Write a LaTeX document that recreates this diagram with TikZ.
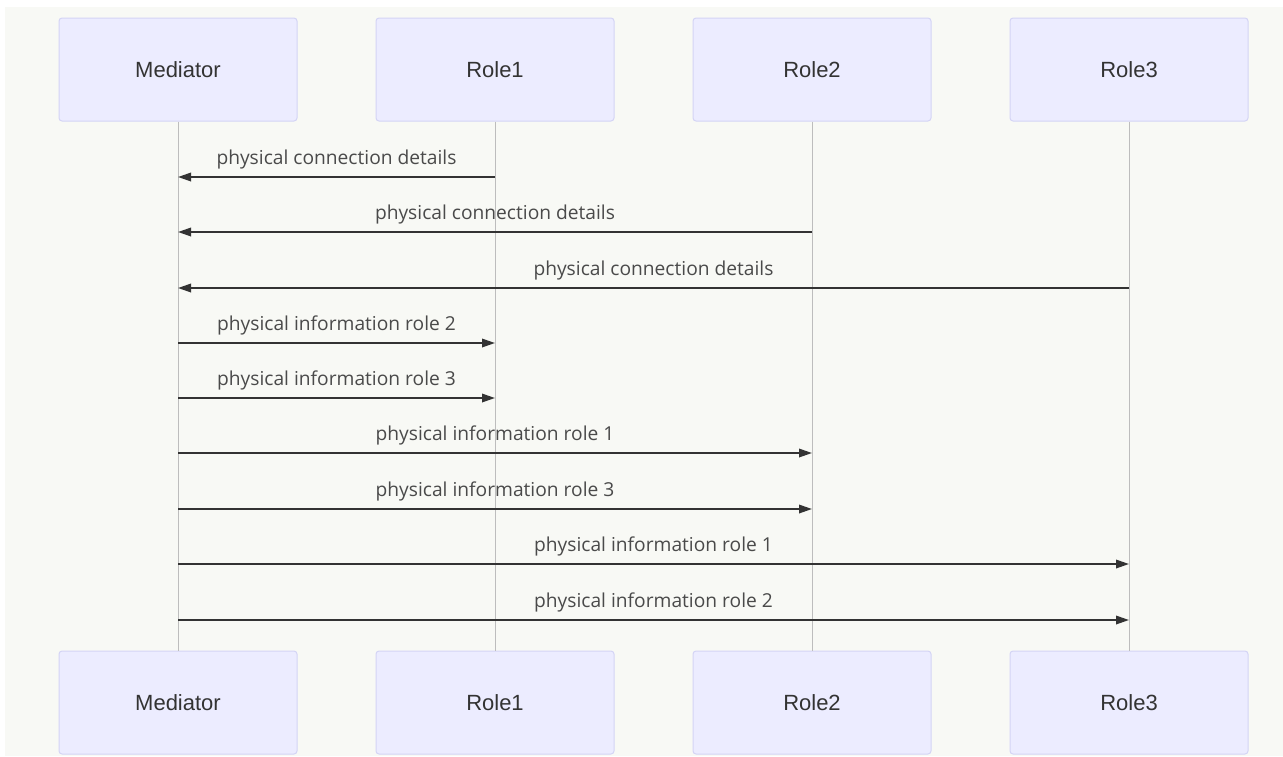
\documentclass[tikz,border=0pt]{standalone}
\usepackage{fontspec}
\usetikzlibrary{arrows.meta}
\newfontfamily\actfont{Liberation Sans}
\newfontfamily\msgfont{Open Sans}
\definecolor{pagebg}{HTML}{F8F9F5}
\definecolor{actfill}{HTML}{ECECFF}
\definecolor{actline}{HTML}{D4D4F5}
\definecolor{lifeline}{HTML}{BDBDBD}
\definecolor{msgline}{HTML}{333333}
\definecolor{msgtext}{HTML}{4A4A4A}
\definecolor{acttext}{HTML}{333333}
\tikzset{
  actor/.style={draw=actline, line width=1pt, fill=actfill, rounded corners=3pt,
    minimum width=238pt, minimum height=103pt, inner sep=0pt,
    font=\actfont\fontsize{22}{26}\selectfont, text=acttext},
  life/.style={draw=lifeline, line width=0.9pt},
  msg/.style={draw=msgline, line width=1.8pt,
    -{Triangle[length=13pt,width=8.5pt]}},
  msglabel/.style={font=\msgfont\fontsize{19.2}{23}\selectfont, text=msgtext, inner sep=0pt}
}
\begin{document}
\begin{tikzpicture}[x=1pt,y=-1pt]
  \useasboundingbox (0,0) rectangle (1283,756);
  \fill[white] (0,0) rectangle (1283,756);
  \fill[pagebg] (5,7) rectangle (1283,756);

  % participants, top row
  \node[actor] (tM) at (178,69.5) {Mediator};
  \node[actor] (tA) at (495,69.5) {Role1};
  \node[actor] (tB) at (812,69.5) {Role2};
  \node[actor] (tC) at (1129,69.5) {Role3};
  % participants, bottom row
  \node[actor] (bM) at (178,702.5) {Mediator};
  \node[actor] (bA) at (495,702.5) {Role1};
  \node[actor] (bB) at (812,702.5) {Role2};
  \node[actor] (bC) at (1129,702.5) {Role3};

  % lifelines
  \draw[life] (tM.south) -- (bM.north);
  \draw[life] (tA.south) -- (bA.north);
  \draw[life] (tB.south) -- (bB.north);
  \draw[life] (tC.south) -- (bC.north);

  % message end points on the lifelines
  \foreach \n/\y in {1/177,2/232,3/288,4/343,5/398,6/453,7/509,8/564,9/620}{
    \coordinate (M\n) at (tM |- 0,\y);
    \coordinate (A\n) at (tA |- 0,\y);
    \coordinate (B\n) at (tB |- 0,\y);
    \coordinate (C\n) at (tC |- 0,\y);
  }

  % connection details reported to the mediator
  \draw[msg] (A1) -- node[msglabel, above=7pt] {physical connection details} (M1);
  \draw[msg] (B2) -- node[msglabel, above=7pt] {physical connection details} (M2);
  \draw[msg] (C3) -- node[msglabel, above=7pt] {physical connection details} (M3);

  % information handed out by the mediator
  \draw[msg] (M4) -- node[msglabel, above=7pt] {physical information role 2} (A4);
  \draw[msg] (M5) -- node[msglabel, above=7pt] {physical information role 3} (A5);
  \draw[msg] (M6) -- node[msglabel, above=7pt] {physical information role 1} (B6);
  \draw[msg] (M7) -- node[msglabel, above=7pt] {physical information role 3} (B7);
  \draw[msg] (M8) -- node[msglabel, above=7pt] {physical information role 1} (C8);
  \draw[msg] (M9) -- node[msglabel, above=7pt] {physical information role 2} (C9);
\end{tikzpicture}
\end{document}
